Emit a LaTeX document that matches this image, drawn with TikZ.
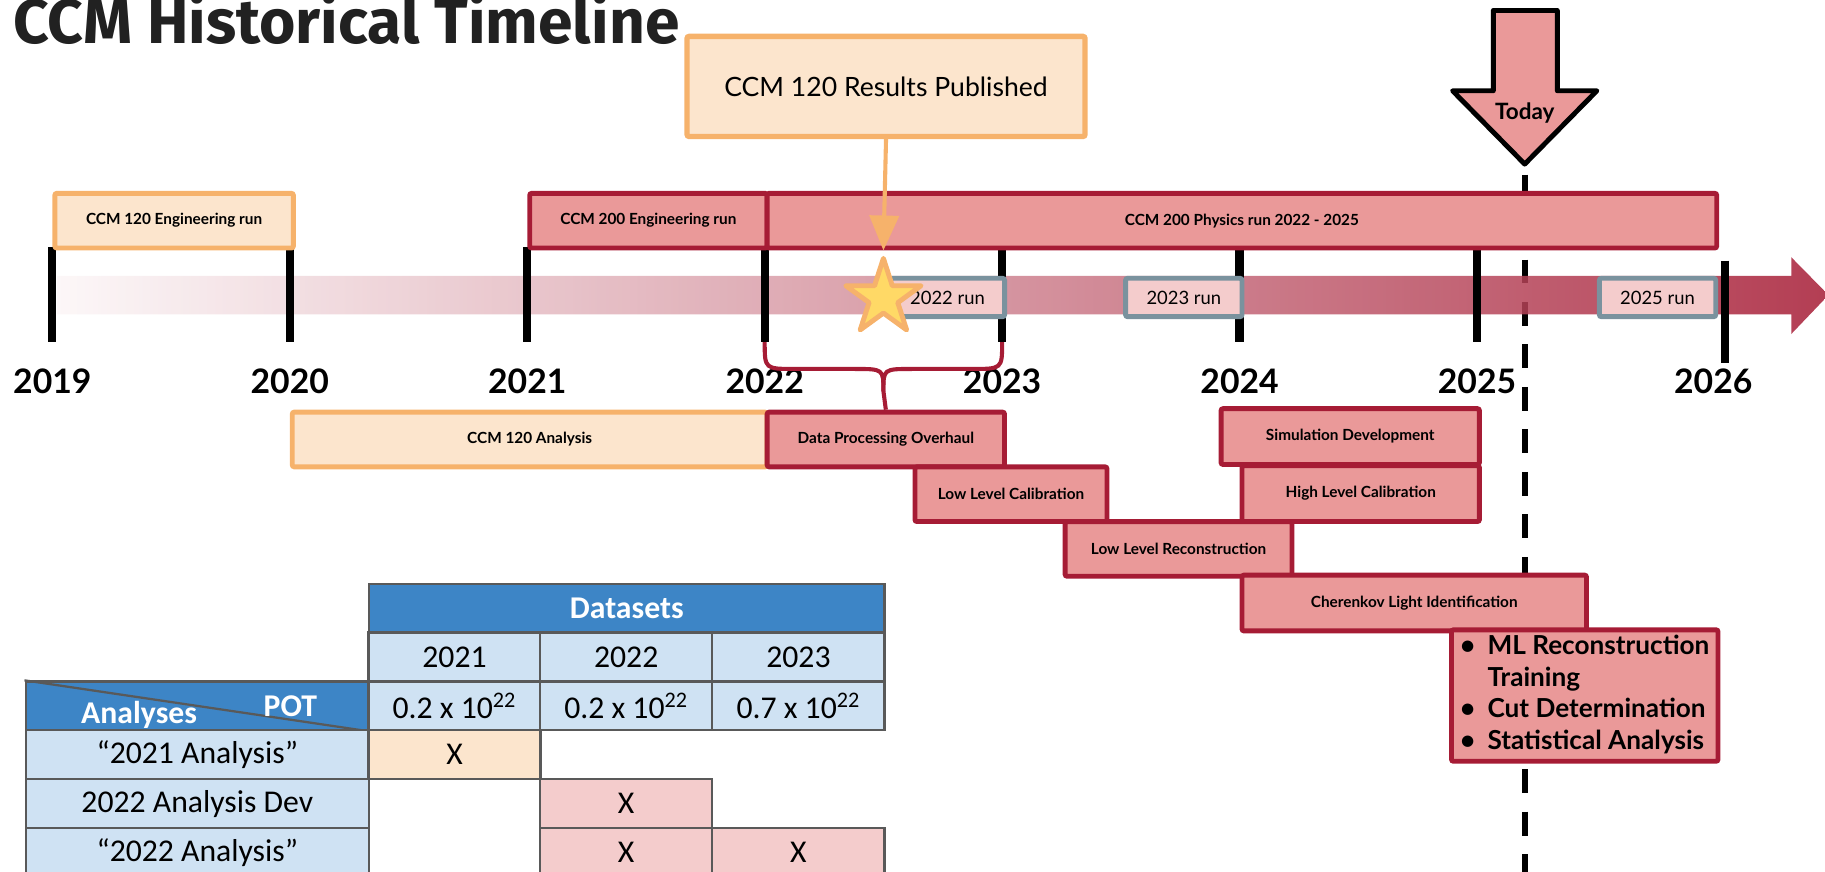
\documentclass[tikz,border=0pt]{standalone}
\usepackage{fontspec}
\setmainfont{Lato}
\newfontfamily\tabfont{Carlito}
\newfontfamily\titlefont{Fira Sans}
\usetikzlibrary{shapes.geometric, arrows.meta, positioning}
\definecolor{ccmred}{RGB}{166, 28, 53}
\definecolor{ccmsalmon}{RGB}{234, 153, 153}
\definecolor{ccmpink}{RGB}{244, 204, 204}
\definecolor{ccmorange}{RGB}{246, 178, 107}
\definecolor{ccmcream}{RGB}{252, 229, 205}
\definecolor{runedge}{RGB}{122, 146, 158}
\definecolor{stargold}{RGB}{255, 217, 102}
\definecolor{tblue}{RGB}{61, 133, 198}
\definecolor{tlight}{RGB}{207, 226, 243}
\definecolor{tgrid}{RGB}{89, 89, 89}
\definecolor{titlegray}{RGB}{33, 33, 33}
\newcommand{\boxfont}{\fontsize{7.5}{9}\selectfont\bfseries}
\newcommand{\runfont}{\fontsize{9}{11}\selectfont}
\newcommand{\yearfont}{\fontsize{16.5}{19}\selectfont\bfseries}
\newcommand{\listfont}{\fontsize{12.8}{15.4}\selectfont\bfseries}
\newcommand{\cellfont}{\tabfont\fontsize{15.5}{18}\selectfont}
\tikzset{
  orangebox/.style={rectangle, rounded corners=1pt, draw=ccmorange, fill=ccmcream,
              line width=2.4pt, inner sep=0pt, minimum height=0.94cm,
              minimum width=#1, font=\boxfont, anchor=north west},
  orangebox/.default=4cm,
  redbox/.style={rectangle, rounded corners=1pt, draw=ccmred, fill=ccmsalmon,
              line width=2.4pt, inner sep=0pt, minimum height=0.94cm,
              minimum width=#1, font=\boxfont, anchor=north west},
  redbox/.default=4cm,
  runbox/.style={rectangle, rounded corners=1pt, draw=runedge, fill=ccmpink,
              line width=2.4pt, inner sep=0pt, minimum height=0.66cm,
              minimum width=#1, font=\runfont, anchor=north west},
  runbox/.default=2cm,
  tcell/.style={rectangle, draw=tgrid, line width=1.1pt, inner sep=0pt,
              minimum height=0.84cm, minimum width=#1, font=\cellfont},
  tcell/.default=2.96cm,
  yeartick/.style={line width=4pt, color=black},
  yearlbl/.style={font=\yearfont, anchor=base, inner sep=0pt},
  bracestyle/.style={draw=ccmred, line width=2pt},
  pubarrow/.style={draw=ccmorange, line width=2pt, -{Triangle[length=0.6cm, width=0.5cm]}},
  todayline/.style={line width=2.85pt, dash pattern=on 0.41cm off 0.32cm},
}

\begin{document}
\begin{tikzpicture}[x=0.02cm, y=-0.02cm]
  \useasboundingbox (0,0) rectangle (1568,749);

  \node[font=\titlefont\bfseries\fontsize{30.5}{34}\selectfont, text=titlegray,
        anchor=base west, inner sep=0pt] (title) at (11,37) {CCM Historical Timeline};

  % today marker line, behind everything
  \coordinate (todaytop) at (1310,150);
  \coordinate (todaybot) at (1310,770);
  \draw[todayline] (todaytop) -- (todaybot);

  % time axis
  \shade[left color=ccmred!4, right color=ccmred, fill opacity=0.85]
    (49,237) -- (1539,237) -- (1539,221) -- (1571,253.5) -- (1539,287)
    -- (1539,270) -- (49,270) -- cycle;
  \foreach \yr [count=\i from 0] in {2019,...,2025} {
    \coordinate (tt\yr) at ({45+204*\i},212);
    \coordinate (tb\yr) at ({45+204*\i},294);
    \draw[yeartick] (tt\yr) -- (tb\yr);
    \node[yearlbl] (lbl\yr) at ({45+204*\i},338) {\yr};
  }
  \coordinate (tt2026) at (1482,224);
  \coordinate (tb2026) at (1482,312);
  \draw[yeartick] (tt2026) -- (tb2026);
  \node[yearlbl] (lbl2026) at (1472,338) {2026};

  % runs
  \node[orangebox=4.1cm] (eng120) at (45,164) {CCM 120 Engineering run};
  \node[redbox=4.08cm] (eng200) at (453,164) {CCM 200 Engineering run};
  \node[redbox=16.32cm] (phys200) at (657,164) {CCM 200 Physics run 2022 - 2025};

  \node[runbox=1.96cm] (run22) at (763,237) {2022 run};
  \node[runbox] (run23) at (965,237) {2023 run};
  \node[runbox] (run25) at (1372,237) {2025 run};

  % publication
  \node[star, star points=5, star point ratio=2.618, minimum size=1.36cm, inner sep=0pt,
        draw=ccmorange, fill=stargold, line width=2.4pt, line join=round] (pubstar) at (759,256) {};
  \node[orangebox=6.84cm, minimum height=1.72cm, line width=2.6pt,
        font=\fontsize{13}{15}\selectfont] (results) at (588,29) {CCM 120 Results Published};
  \draw[pubarrow] (results.south) -- (pubstar.outer point 1);

  % today arrow
  \draw[line width=2.4pt, fill=ccmsalmon, line join=round]
    (1283,9) -- (1338,9) -- (1338,78) -- (1372,78) -- (1310,141)
    -- (1248,78) -- (1283,78) -- cycle;
  \node[font=\fontsize{11}{13}\selectfont\bfseries, anchor=base, inner sep=0pt] (today) at (1310,102.6) {Today};

  % analysis work
  \node[orangebox=8.16cm] (ana120) at (249,352) {CCM 120 Analysis};
  \node[redbox=4.08cm] (dpo) at (657,352) {Data Processing Overhaul};
  \node[redbox=3.3cm] (llc) at (784,399) {Low Level Calibration};
  \node[redbox=3.9cm] (llr) at (913,446) {Low Level Reconstruction};
  \node[redbox=4.44cm, minimum height=0.96cm] (simdev) at (1047,349) {Simulation Development};
  \node[redbox=4.08cm, minimum height=0.96cm] (hlc) at (1065,398) {High Level Calibration};
  \node[redbox=5.92cm, minimum height=0.96cm] (cherenkov) at (1065,492) {Cherenkov Light Identification};
  \node[redbox=4.58cm, minimum height=2.26cm, font=\listfont] (mlbox) at (1245,539)
    {\begin{tabular}{@{}l@{\hspace{6pt}}l@{}}
      \textbullet & ML Reconstruction\\
                  & Training\\
      \textbullet & Cut Determination\\
      \textbullet & Statistical Analysis
     \end{tabular}};

  \draw[bracestyle] (tb2022) .. controls (657,317) .. (683,317) -- (734,317)
    .. controls (759,317) .. (759,336) -- (dpo.north);
  \draw[bracestyle] (tb2023) .. controls (861,317) .. (835,317) -- (784,317)
    .. controls (759,317) .. (759,336);

  % datasets table
  \node[tcell=8.86cm, fill=tblue, text=white, font=\cellfont\bfseries] (dshead) at (538.5,522.5) {Datasets};
  \node[tcell, fill=tlight] (yr21) at (390.5,564.5) {2021};
  \node[tcell, fill=tlight] (yr22) at (538,564.5) {2022};
  \node[tcell, fill=tlight] (yr23) at (686,564.5) {2023};
  \node[tcell=5.9cm, fill=tblue] (pothead) at (169.5,606.5) {};
  \draw[tgrid, line width=1.1pt] (pothead.north west) -- (pothead.south east);
  \node[font=\cellfont\bfseries, text=white, anchor=base, inner sep=0pt] (analyses) at (119.5,621.5) {Analyses};
  \node[font=\cellfont\bfseries, text=white, anchor=base, inner sep=0pt] (pot) at (249.5,615.8) {POT};
  \node[tcell, fill=tlight] (pot21) at (390.5,606.5) {0.2 x 10\textsuperscript{22}};
  \node[tcell, fill=tlight] (pot22) at (538,606.5) {0.2 x 10\textsuperscript{22}};
  \node[tcell, fill=tlight] (pot23) at (686,606.5) {0.7 x 10\textsuperscript{22}};
  \node[tcell=5.9cm, fill=tlight] (an21) at (169.5,648.5) {“2021 Analysis”};
  \node[tcell, fill=ccmcream] (x21) at (390.5,648.5) {X};
  \node[tcell=5.9cm, fill=tlight] (an22dev) at (169.5,690.5) {2022 Analysis Dev};
  \node[tcell, fill=ccmpink] (x22dev) at (538,690.5) {X};
  \node[tcell=5.9cm, fill=tlight] (an22) at (169.5,732.5) {“2022 Analysis”};
  \node[tcell, fill=ccmpink] (x22) at (538,732.5) {X};
  \node[tcell, fill=ccmpink] (x23) at (686,732.5) {X};
\end{tikzpicture}
\end{document}
